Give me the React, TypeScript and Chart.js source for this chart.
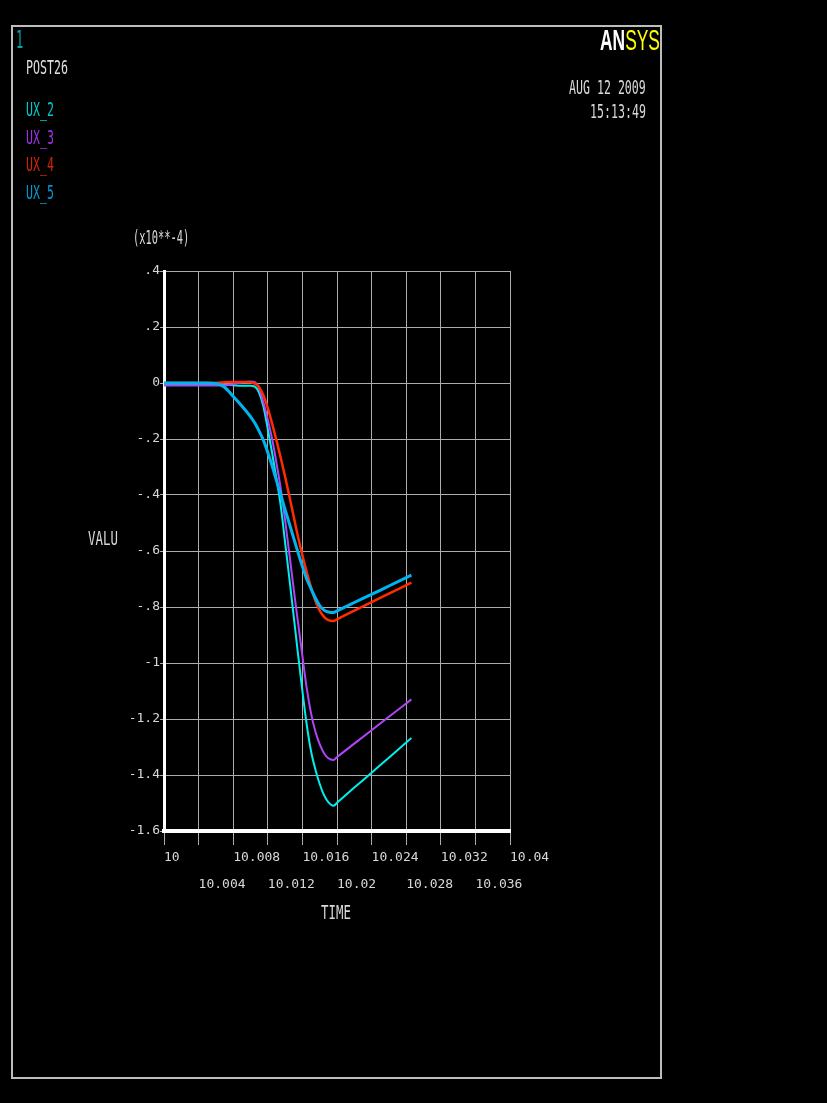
import React, { useEffect, useRef } from 'react';
import { Chart, registerables } from 'chart.js';

Chart.register(...registerables);

// ---- data (values in units of 1e-4) ----
const timeValues = [
  10.0, 10.002, 10.004, 10.005, 10.006, 10.007, 10.008, 10.009, 10.01, 10.0105,
  10.011, 10.0115, 10.012, 10.0125, 10.013, 10.0135, 10.014, 10.0145, 10.015, 10.0155,
  10.016, 10.0165, 10.017, 10.0175, 10.018, 10.0185, 10.019, 10.0196, 10.02, 10.022,
  10.024, 10.026, 10.0286,
];

const ux2 = [
  -0.005, -0.005, -0.005, -0.005, -0.005, -0.006, -0.008, -0.01, -0.01, -0.013,
  -0.035, -0.085, -0.165, -0.25, -0.342, -0.44, -0.57, -0.7, -0.835, -0.97,
  -1.1, -1.22, -1.315, -1.38, -1.432, -1.472, -1.497, -1.51, -1.499, -1.445,
  -1.392, -1.338, -1.268,
];

const ux3 = [
  -0.009, -0.009, -0.009, -0.009, -0.009, -0.009, -0.004, 0.003, 0.005, 0.003,
  -0.02, -0.07, -0.13, -0.2, -0.285, -0.378, -0.49, -0.612, -0.737, -0.857,
  -0.975, -1.09, -1.18, -1.245, -1.29, -1.322, -1.34, -1.346, -1.336, -1.288,
  -1.24, -1.192, -1.13,
];

const ux4 = [
  0, 0, 0, 0, 0, 0.003, 0.004, 0.004, 0.003, -0.002,
  -0.015, -0.045, -0.09, -0.145, -0.205, -0.268, -0.335, -0.405, -0.478, -0.55,
  -0.615, -0.675, -0.73, -0.778, -0.813, -0.835, -0.847, -0.85, -0.844, -0.813,
  -0.783, -0.752, -0.713,
];

const ux5 = [
  0, 0, 0, 0, -0.002, -0.015, -0.048, -0.082, -0.12, -0.143,
  -0.172, -0.205, -0.248, -0.296, -0.348, -0.4, -0.452, -0.503, -0.555, -0.606,
  -0.655, -0.7, -0.735, -0.768, -0.795, -0.811, -0.818, -0.82, -0.814, -0.784,
  -0.755, -0.725, -0.686,
];

const seriesNames = ['UX_2', 'UX_3', 'UX_4', 'UX_5'];
const seriesValues = [ux2, ux3, ux4, ux5];
const lineColors = ['#00eeee', '#b044f8', '#ff2c00', '#00b4f0'];
const legendColors = ['#00c8c8', '#a030e8', '#d42400', '#0098d0'];
const lineWidths = [2, 2, 2.5, 3];
const drawOrder = [3, 2, 1, 0];

const xMin = 10;
const xMax = 10.04;
const xStep = 0.004;
const yMin = -1.6;
const yMax = 0.4;
const yStep = 0.2;

const MONO = '"DejaVu Sans Mono", "Liberation Mono", monospace';

function fmtX(v: number): string {
  return String(parseFloat(v.toFixed(3)));
}
function fmtY(v: number): string {
  const r = Math.round(v * 10) / 10;
  if (r === 0) return '0';
  let s = String(r);
  s = s.replace(/^(-?)0\./, '$1.');
  return s;
}

type TxtProps = { x: number; y: number; text: string; color: string; size?: number; sx?: number };
function Txt({ x, y, text, color, size = 20, sx = 0.58 }: TxtProps) {
  return (
    <div
      style={{
        position: 'absolute',
        left: x,
        top: y,
        color,
        fontFamily: MONO,
        fontSize: size,
        lineHeight: `${size}px`,
        whiteSpace: 'pre',
        transform: `scaleX(${sx})`,
        transformOrigin: '0 0',
      }}
    >
      {text}
    </div>
  );
}

export default function App() {
  const canvasRef = useRef<HTMLCanvasElement | null>(null);

  useEffect(() => {
    document.body.style.margin = '0';
    document.body.style.background = '#000';
    const canvas = canvasRef.current;
    if (!canvas) return;

    const datasets = seriesNames.map((name, i) => ({
      label: name,
      data: timeValues.map((t, j) => ({ x: t, y: seriesValues[i][j] })),
      borderColor: lineColors[i],
      backgroundColor: lineColors[i],
      borderWidth: lineWidths[i],
      pointRadius: 0,
      fill: false,
      cubicInterpolationMode: 'monotone' as const,
      order: drawOrder[i],
    }));

    const chart = new Chart(canvas, {
      type: 'line',
      data: { datasets },
      options: {
        animation: false,
        responsive: false,
        maintainAspectRatio: false,
        devicePixelRatio: 1,
        layout: { padding: { left: 0, top: 271, right: 317, bottom: 172 } },
        plugins: {
          legend: { display: false },
          tooltip: { enabled: false },
          title: { display: false },
        },
        scales: {
          x: {
            type: 'linear',
            min: xMin,
            max: xMax,
            afterFit: (s: any) => {
              s.height = 100;
            },
            grid: {
              color: '#acacac',
              lineWidth: 1,
              tickLength: 14,
              tickColor: '#acacac',
              drawTicks: true,
            },
            border: { display: true, color: '#ffffff', width: 4 },
            ticks: {
              stepSize: xStep,
              autoSkip: false,
              maxRotation: 0,
              minRotation: 0,
              align: 'start',
              padding: -1,
              color: '#d8d8d8',
              font: { family: MONO, size: 13, lineHeight: 2.08 },
              callback: (value: any, index: number) => {
                const s = fmtX(Number(value));
                return index % 2 === 0 ? [s] : ['', s];
              },
            },
          },
          y: {
            type: 'linear',
            min: yMin,
            max: yMax,
            afterFit: (s: any) => {
              s.width = 164;
            },
            grid: {
              color: '#acacac',
              lineWidth: 1,
              tickLength: 4,
              tickColor: '#acacac',
            },
            border: { display: true, color: '#ffffff', width: 3 },
            ticks: {
              stepSize: yStep,
              padding: 0,
              color: '#d8d8d8',
              font: { family: MONO, size: 13 },
              callback: (value: any) => fmtY(Number(value)),
            },
          },
        },
      },
    });

    return () => {
      chart.destroy();
    };
  }, []);

  return (
    <div style={{ position: 'relative', width: 827, height: 1103, background: '#000', overflow: 'hidden' }}>
      <div
        style={{
          position: 'absolute',
          left: 11,
          top: 25,
          width: 647,
          height: 1050,
          border: '2px solid #bdbdbd',
        }}
      />
      <canvas
        ref={canvasRef}
        width={827}
        height={1103}
        style={{ position: 'absolute', left: 0, top: 0, width: 827, height: 1103 }}
      />
      <Txt x={16} y={28} text="1" color="#00a8a8" size={24} sx={0.5} />
      <Txt x={26} y={57} text="POST26" color="#e0e0e0" />
      {seriesNames.map((n, i) => (
        <Txt key={n} x={26} y={99 + i * 27.7} text={n} color={legendColors[i]} />
      ))}
      <div
        style={{
          position: 'absolute',
          left: 600,
          top: 25,
          fontFamily: '"Liberation Sans", Arial, sans-serif',
          fontWeight: 'bold',
          fontSize: 30,
          lineHeight: '30px',
          whiteSpace: 'pre',
          transform: 'scaleX(0.58)',
          transformOrigin: '0 0',
        }}
      >
        <span style={{ color: '#ffffff' }}>AN</span>
        <span style={{ color: '#ffff00', fontWeight: 'normal' }}>SYS</span>
      </div>
      <Txt x={569} y={77} text="AUG 12 2009" color="#d8d8d8" />
      <Txt x={590} y={101} text="15:13:49" color="#d8d8d8" />
      <Txt x={133} y={227} text="(x10**-4)" color="#d8d8d8" sx={0.52} />
      <Txt x={88} y={528} text="VALU" color="#d8d8d8" sx={0.62} />
      <Txt x={321} y={902} text="TIME" color="#d8d8d8" sx={0.62} />
    </div>
  );
}
